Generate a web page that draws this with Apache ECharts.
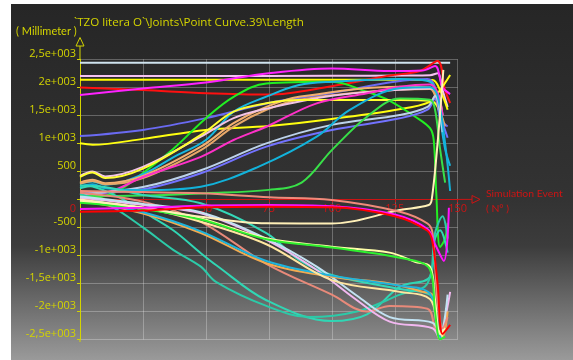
<!DOCTYPE html>
<html>
<head>
<meta charset="utf-8">
<script src="https://cdn.jsdelivr.net/npm/echarts@6/dist/echarts.min.js"></script>
<style>
  html, body { margin: 0; padding: 0; background: #fff; }
  #chart {
    width: 573px; height: 360px;
    background:
      linear-gradient(to bottom, #262626 0%, #333333 55%, #3c3c3c 68%, #9a9a9a 100%) 11px 4px / 562px 356px no-repeat,
      #ffffff;
  }
</style>
</head>
<body>
<div id="chart"></div>
<script>
// Axis ticks
const xTickValues = [0, 25, 50, 75, 100, 125, 150];
const xTickLabels = ['0', '25', '50', '75', '100', '125', '150'];
const yTickValues = [-2500, -2000, -1500, -1000, -500, 0, 500, 1000, 1500, 2000, 2500];
const yTickLabels = ['-2,5e+003', '-2e+003', '-1,5e+003', '-1e+003', '-500', '', '500', '1e+003', '1,5e+003', '2e+003', '2,5e+003'];

// Length curves, [simulation event, length in mm]
const topWhite     = [[0,2440],[50,2440],[100,2440],[147,2440]];
const topPink      = [[0,2200],[50,2200],[100,2205],[130,2210],[139,2215],[142,2250],[144,1950],[146,1650]];
const topYellow    = [[0,2135],[50,2135],[100,2135],[130,2135],[140,2130],[143,1950],[146,1600]];
const topRed       = [[0,1995],[25,1950],[50,1895],[75,1870],[100,2020],[123,2210],[135,2290],[142,2470],[145,1950],[147,1720]];
const topMagenta   = [[0,1865],[25,1980],[50,2085],[75,2250],[100,2335],[123,2290],[136,2300],[141,2380],[144,2000],[147,1880]];
const violet       = [[0,1130],[25,1240],[50,1450],[75,1720],[100,1900],[125,2100],[138,2150],[141,2000],[143,1450],[146,1300]];
const yellowLinear = [[0,1000],[5,975],[25,1080],[50,1240],[75,1310],[100,1435],[125,1595],[139,1740],[143,1950],[147,2220]];

const greenA   = [[0,40],[5,30],[15,150],[25,470],[37,900],[50,1450],[61,1830],[74,2070],[100,2100],[114,1920],[123,1760],[133,1480],[139,1270],[140.5,1050],[141.5,100],[143,-850],[145,-700],[146,-420]];
const cyanA    = [[0,280],[5,320],[10,260],[25,450],[37,750],[50,1060],[61,1565],[74,1833],[87,2040],[100,2100],[127,2150],[139,2100],[142,1700],[145,900],[147,600]];
const peachA   = [[0,300],[5,350],[10,290],[25,420],[48,940],[61,1360],[74,1650],[87,1830],[127,2010],[139,2000],[142,1800],[144,1400]];
const peachB   = [[0,280],[5,330],[10,270],[25,380],[48,880],[61,1300],[74,1600],[87,1780],[127,1960],[139,1970],[142,1700],[145,1300]];
const pinkA    = [[0,420],[5,500],[10,410],[25,580],[48,1120],[61,1450],[74,1620],[100,1850],[125,1950],[139,1980],[142,1900],[144,1500]];
const yellowA  = [[0,400],[5,480],[10,380],[25,550],[48,1150],[61,1565],[74,1714],[87,1773],[127,1773],[139,1760],[142,1650],[144,1300]];
const magentaA = [[0,100],[10,120],[25,400],[48,760],[61,1060],[74,1297],[94,1714],[114,1893],[127,2011],[139,2050],[142,1900],[144,1500]];
const blueA    = [[0,110],[25,180],[48,466],[74,941],[100,1238],[127,1447],[138,1600],[141,1800],[143,1500],[146,1100]];
const steelA   = [[0,90],[25,220],[48,520],[74,1000],[100,1330],[127,1506],[138,1650],[141,1850],[144,1200]];
const cyanB    = [[0,230],[5,270],[10,200],[25,165],[48,227],[71,585],[94,1119],[107,1595],[127,1982],[139,2000],[142,1850],[145,1000],[147,150]];
const greenB   = [[0,60],[25,70],[50,110],[75,170],[88,300],[100,880],[114,1476],[127,1800],[139,1780],[141,1600],[143,900],[145,300]];

const redN         = [[0,-220],[25,-200],[50,-140],[75,-130],[100,-140],[125,-300],[138,-560],[140,-760],[142,-1500],[144,-2400],[147,-2240]];
const magentaN     = [[0,-170],[25,-150],[50,-110],[75,-100],[100,-120],[125,-270],[138,-530],[141,-800],[144.5,-1100],[146.5,-150]];
const salmonN      = [[0,150],[25,130],[48,110],[75,40],[100,-10],[127,-220],[138,-430],[140,-600],[142,-1800],[144,-2300],[146,-2100]];
const creamN       = [[0,0],[25,-150],[48,-310],[74,-427],[100,-430],[127,-190],[138.5,-100],[139.7,0],[142,1000],[144.3,2310]];
const paleYellowN  = [[0,-40],[25,-150],[48,-340],[74,-695],[100,-844],[123,-950],[133,-1112],[139,-1200],[141,-1800],[143,-2400],[145,-2300]];
const greenN       = [[0,-60],[25,-170],[48,-360],[74,-710],[100,-860],[127,-1040],[139,-1250],[141,-2000],[143,-2500],[145,-2450]];
const orangeN      = [[0,-20],[25,-250],[48,-600],[74,-1140],[100,-1380],[123,-1500],[136,-1647],[140,-1706],[142,-2300],[144,-2450],[146,-2000]];
const cyanN        = [[0,-10],[25,-230],[48,-570],[74,-1100],[100,-1360],[127,-1540],[139,-1680],[142,-2300],[143.5,-2500]];
const tealA        = [[0,250],[5,230],[15,50],[25,-220],[37,-550],[48,-960],[54,-1170],[74,-1800],[100,-2170],[114,-2050],[127,-1560],[139,-1380],[141,-700],[143,-550],[146,-950]];
const tealB        = [[0,100],[12.6,-130],[25,-500],[37,-900],[48,-1200],[54,-1470],[74,-1900],[91,-2100],[110,-2000],[127,-1700],[138,-1500],[141,-600],[144,-300],[146,-700]];
const tealC        = [[0,200],[5,240],[25,80],[48,-70],[74,-600],[87,-1080],[100,-1350],[127,-1600],[139,-1700],[141,-2000],[143,-2450],[145,-2300]];
const lavenderN    = [[0,30],[25,-100],[48,-250],[74,-724],[94,-1260],[110,-1800],[123,-2180],[140,-2300],[143,-2500],[146,-1900],[147,-1650]];
const lightBlueN   = [[0,50],[25,-80],[48,-230],[74,-700],[94,-1200],[110,-1720],[123,-2100],[140,-2200],[143,-2400],[146,-1700]];
const salmonN2     = [[0,120],[25,-40],[48,-400],[74,-1150],[100,-1700],[114,-2000],[123,-1900],[138,-1950],[141,-2300],[143,-2450],[145,-2200]];
const paleYellowN2 = [[0,-20],[25,-150],[48,-400],[74,-800],[100,-1440],[127,-1650],[139,-1780],[142,-2300],[144,-2450]];

const curves = [
  topWhite, topPink, topYellow, topRed, topMagenta, violet, yellowLinear,
  greenA, cyanA, peachA, peachB, pinkA, yellowA, magentaA, blueA, steelA, cyanB, greenB,
  tealA, tealB, tealC, salmonN2, lavenderN, lightBlueN, orangeN, cyanN, paleYellowN2,
  paleYellowN, greenN, creamN, salmonN, magentaN, redN
];
const curveColors = [
  '#cfe3ee', '#f6c2f2', '#ffff00', '#ff1010', '#ff22ff', '#6a6af2', '#ffff10',
  '#22ee22', '#18b8e0', '#f4b070', '#e8a868', '#f2c4e6', '#ffff30', '#ff30c8', '#7272ff', '#bcd2ea', '#12b2da', '#38e048',
  '#30d6b4', '#2ccaa8', '#34d8b8', '#e88a7a', '#f2b8f0', '#c2e2f2', '#f2aa50', '#1eb4dc', '#ffe6a0',
  '#ffffa8', '#2ef02e', '#fff0b8', '#f08a7a', '#ff12ff', '#ff0000'
];

const chart = echarts.init(document.getElementById('chart'), null, { renderer: 'canvas' });

const YELLOW = '#d4d400';
const RED = '#cc1414';
const GRIDC = 'rgba(255,255,255,0.27)';
const FONT = 'Open Sans';

// plot frame in pixels
const PLOT_TOP = 59.3, PLOT_BOTTOM_GAP = 20.5, PLOT_H = 360 - PLOT_TOP - PLOT_BOTTOM_GAP;
const ZERO_Y = PLOT_TOP + PLOT_H / 2;

chart.setOption({
  animation: false,
  backgroundColor: 'transparent',
  grid: { left: 80, top: PLOT_TOP, right: 115.3, bottom: PLOT_BOTTOM_GAP, containLabel: false },
  xAxis: {
    type: 'value', min: 0, max: 150, interval: 25,
    position: 'bottom',
    offset: -(PLOT_H / 2),
    axisLine: { onZero: false, lineStyle: { color: RED, width: 1 } },
    axisTick: { show: true, length: 3, lineStyle: { color: RED } },
    splitLine: { show: true, lineStyle: { color: GRIDC, width: 1 } },
    axisLabel: {
      color: RED, fontSize: 11, fontFamily: FONT, margin: 4,
      formatter: function (v) {
        const i = xTickValues.indexOf(v);
        const t = i >= 0 ? xTickLabels[i] : '';
        return v === 0 ? '{z|' + t + '}' : t;
      },
      rich: { z: { color: RED, fontSize: 11, fontFamily: FONT, padding: [0, 14, 0, 0] } }
    }
  },
  yAxis: {
    type: 'value', min: -2500, max: 2500, interval: 500,
    axisLine: { show: true, onZero: false, lineStyle: { color: YELLOW, width: 1 } },
    axisTick: { show: true, length: 3, lineStyle: { color: YELLOW } },
    splitLine: { show: true, lineStyle: { color: GRIDC, width: 1 } },
    axisLabel: {
      color: YELLOW, fontSize: 11, fontFamily: FONT, margin: 4, verticalAlign: 'bottom',
      formatter: function (v) {
        const i = yTickValues.indexOf(v);
        return i >= 0 ? yTickLabels[i] : '';
      }
    }
  },
  series: curves.map(function (d, i) {
    return {
      type: 'line', data: d, showSymbol: false, symbol: 'none', smooth: 0.35,
      lineStyle: { color: curveColors[i], width: 2 },
      z: 2 + i * 0.01
    };
  }),
  graphic: [
    { type: 'text', left: 74, top: 17, style: { text: '`TZO litera O`\\Joints\\Point Curve.39\\Length', fill: YELLOW, font: '11.6px "Open Sans"' } },
    { type: 'text', left: 16, top: 26, style: { text: '( Millimeter )', fill: YELLOW, font: '11px Lato' } },
    { type: 'line', shape: { x1: 80, y1: 46, x2: 80, y2: PLOT_TOP }, style: { stroke: YELLOW, lineWidth: 1 } },
    { type: 'polygon', shape: { points: [[80, 37.5], [76, 46], [84, 46]] }, style: { fill: 'none', stroke: YELLOW, lineWidth: 1 } },
    { type: 'line', shape: { x1: 80, y1: 339.5, x2: 80, y2: 342 }, style: { stroke: YELLOW, lineWidth: 1 } },
    { type: 'line', shape: { x1: 457.7, y1: ZERO_Y, x2: 472, y2: ZERO_Y }, style: { stroke: RED, lineWidth: 1 } },
    { type: 'polygon', shape: { points: [[472, ZERO_Y - 3.9], [480, ZERO_Y], [472, ZERO_Y + 3.9]] }, style: { fill: 'none', stroke: RED, lineWidth: 1 } },
    { type: 'text', left: 486, top: 189, style: { text: 'Simulation Event', fill: RED, font: '10.4px Lato' } },
    { type: 'text', left: 486, top: 204, style: { text: '( N° )', fill: RED, font: '10.4px Lato' } }
  ]
});
</script>
</body>
</html>
